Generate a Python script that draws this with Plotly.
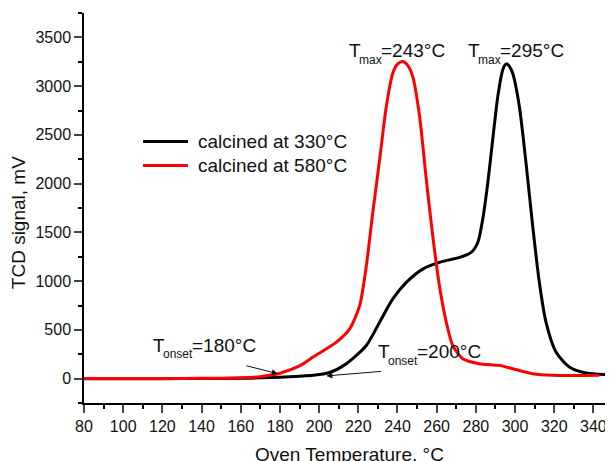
import plotly.graph_objects as go

# ---- data ----
black_x = [80, 100, 120, 140, 160, 170, 180, 190, 196.9, 205, 213.9, 224.1, 230.9, 237.6, 244.5, 252.9,
           261.4, 271.6, 277.6, 281.0, 283.5, 286.1, 288.6, 291.2, 293.7, 294.8, 295.8, 297.2, 298.8,
           302.2, 305.6, 309.0, 312.4, 315.8, 320.9, 327.7, 336.2, 350]
black_y = [0, 0, 0, 1, 3, 8, 15, 25, 34, 60, 153, 340, 579, 817, 987, 1123,
           1192, 1243, 1294, 1396, 1634, 2009, 2451, 2894, 3166, 3215, 3230, 3200, 3132,
           2792, 2213, 1566, 988, 579, 272, 119, 58, 40]

red_x = [80, 100, 120, 140, 150, 160, 170, 180, 190, 196.9, 208.8, 215.6, 220.7, 224.1, 227.4, 230.9,
         234.3, 237.6, 240.0, 242.7, 245.3, 247.8, 251.3, 254.7, 258.0, 261.4, 264.9, 268.2, 273.3, 281.8,
         292.0, 298.8, 309.0, 319.2, 343.0]
red_y = [2, 2, 2, 3, 4, 8, 20, 55, 130, 221, 375, 511, 749, 1157, 1702, 2247,
         2791, 3132, 3225, 3252, 3210, 3098, 2689, 2043, 1464, 953, 579, 340, 204, 153,
         136, 102, 51, 34, 34]

series_names = ["calcined at 330°C", "calcined at 580°C"]
series_colors = ["black", "#ff0000"]
x_ticks = [80, 100, 120, 140, 160, 180, 200, 220, 240, 260, 280, 300, 320, 340]
y_ticks = [0, 500, 1000, 1500, 2000, 2500, 3000, 3500]

FONT = "Arial, Liberation Sans, sans-serif"
TXT = "#111"

fig = go.Figure()
fig.add_trace(go.Scatter(x=black_x, y=black_y, mode="lines", name=series_names[0], showlegend=False,
                         line=dict(color=series_colors[0], width=3, shape="spline", smoothing=0.7)))
fig.add_trace(go.Scatter(x=red_x, y=red_y, mode="lines", name=series_names[1], showlegend=False,
                         line=dict(color=series_colors[1], width=3, shape="spline", smoothing=0.7)))

# plot area in page pixels: x 84..613, y 13..403.3 (page has an 8px body offset)
PX0, PX1, PY0, PY1 = 84.0, 613.0, 13.3, 403.3
def px(xp):
    return (xp - PX0) / (PX1 - PX0)
def py(yp):
    return (PY1 - yp) / (PY1 - PY0)

ann = []
def label(x, y, sub, rest, sub_w, sub_dy):
    common = dict(x=x, y=y, xref="x", yref="y", showarrow=False, xanchor="left", yanchor="middle")
    ann.append(dict(text="T", font=dict(size=19, color=TXT, family=FONT), **common))
    ann.append(dict(text=sub, xshift=10, yshift=-sub_dy, font=dict(size=12, color=TXT, family=FONT), **common))
    ann.append(dict(text=rest, xshift=10 + sub_w, font=dict(size=19, color=TXT, family=FONT), **common))

label(214.0, 3370, "max", "=243°C", 22, 10)
label(275.2, 3370, "max", "=295°C", 22, 10)
label(114.0, 340, "onset", "=180°C", 29, 9)
label(229.2, 276, "onset", "=200°C", 29, 9)

for (hx, hy, tx, ty) in [(178.9, 51, 162.1, 136), (203.7, 28, 232.4, 75)]:
    ann.append(dict(x=hx, y=hy, ax=tx, ay=ty, xref="x", yref="y", axref="x", ayref="y",
                    text="", showarrow=True, arrowhead=2, arrowsize=1.2, arrowwidth=1, arrowcolor=TXT))

# legend drawn by hand to match the reference's long line samples
shapes = []
for i, (name, col) in enumerate(zip(series_names, series_colors)):
    yy = py(141.7 + 24 * i)
    shapes.append(dict(type="line", xref="paper", yref="paper", x0=px(143), x1=px(188), y0=yy, y1=yy,
                       line=dict(color=col, width=3)))
    ann.append(dict(x=px(196), y=yy, xref="paper", yref="paper", text=name, showarrow=False,
                    xanchor="left", yanchor="middle", font=dict(size=19, color=TXT, family=FONT)))

ann.append(dict(x=px(349), y=py(455), xref="paper", yref="paper", text="Oven Temperature, °C",
                showarrow=False, xanchor="center", yanchor="middle",
                font=dict(size=19, color=TXT, family=FONT)))
ann.append(dict(x=px(18.5), y=py(223), xref="paper", yref="paper", text="TCD signal, mV",
                showarrow=False, xanchor="center", yanchor="middle", textangle=-90,
                font=dict(size=19, color=TXT, family=FONT)))

fig.update_layout(
    width=613, height=461,
    margin=dict(l=76, r=8, t=5, b=66),
    paper_bgcolor="white", plot_bgcolor="white",
    font=dict(family=FONT, size=16, color=TXT),
    showlegend=False,
    annotations=ann, shapes=shapes,
)
fig.update_xaxes(range=[80, 350], tickvals=x_ticks, ticks="outside", ticklen=8, tickwidth=1.5,
                 showline=True, linecolor="black", linewidth=1.5, showgrid=False, zeroline=False,
                 tickfont=dict(size=16, color=TXT), automargin=False,
                 minor=dict(dtick=10, tick0=80, ticks="outside", ticklen=4, tickwidth=1.5, tickcolor="black", showgrid=False))
fig.update_yaxes(range=[-250, 3750], tickvals=y_ticks, ticks="outside", ticklen=8, tickwidth=1.5,
                 showline=True, linecolor="black", linewidth=1.5, showgrid=False, zeroline=False,
                 tickfont=dict(size=16, color=TXT), automargin=False,
                 minor=dict(dtick=250, tick0=-250, ticks="outside", ticklen=4, tickwidth=1.5, tickcolor="black", showgrid=False))

fig.write_html("out.html")
